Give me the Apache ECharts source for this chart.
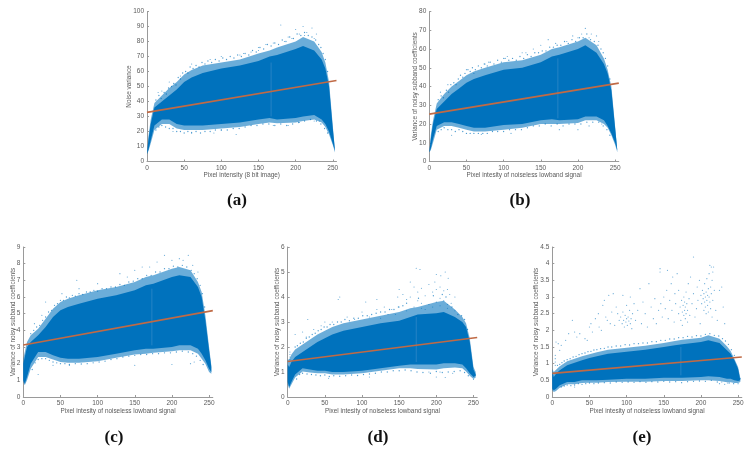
<!DOCTYPE html>
<html>
<head>
<meta charset="utf-8">
<style>html,body{margin:0;padding:0;background:#fff}#c{width:752px;height:453px;filter:blur(0.45px)}</style>
<script src="https://cdn.jsdelivr.net/npm/echarts@6/dist/echarts.min.js"></script>
</head>
<body>
<div id="c"></div>
<script>
const xStops = [0,2,5,10,20,30,40,50,60,75,100,125,150,165,175,200,210,225,235,240,245,250,253];
const xTicks = [0,50,100,150,200,250];

const aHi  = [5,15,25,36,40,44,48,53,56,59,62,64,67,70,71,75,77,74,68,62,50,22,7];
const aLo  = [5,8,14,24,28,28,25,24,24,24,25,26,28,29,28,29,30,31,28,25,20,12,7];
const aHi2 = [5,17,28,39,44,49,53,58,61,64,66,68,72,74,76,80,83,80,73,66,53,24,7];
const aLo2 = [5,7,12,21,25,25,22,21,21,21,22,23,25,26,25.5,26,27,28,26,23,18,11,6];
const bHi  = [5,12,20,28,32,36,39,42,44,46,49,50,53,56,57,60,62,58,52,47,38,18,6];
const bLo  = [5,7,12,19,21,21,20,19,18,18,19.5,20,22,22.5,22,22.5,24,24,22,19,15,10,6];
const bHi2 = [5,14,22,31,36,40,43,46,48,50,53,54,57,60,61,64,66,62,55,49,40,19,6];
const bLo2 = [5,6,10,17,19,19,18,17,16,16,17,18,20,20,20,20.5,22,22,20,18,14,9,5];
const cHi  = [2,2.4,3,3.3,3.7,4.2,4.8,5.2,5.4,5.6,5.9,6.1,6.4,6.7,6.8,7.2,7.3,7.2,6.6,6,4.6,2.8,1.8];
const cLo  = [1,0.8,1.2,2,2.7,2.7,2.5,2.35,2.3,2.3,2.4,2.6,2.8,2.9,2.9,3,3.1,3.1,2.9,2.6,2.2,1.7,1.5];
const cHi2 = [2.3,2.7,3.3,3.7,4.1,4.7,5.3,5.7,5.9,6.1,6.4,6.6,6.9,7.2,7.3,7.7,7.8,7.6,6.9,6.3,4.9,3,1.9];
const cLo2 = [0.9,0.7,1,1.7,2.4,2.4,2.25,2.1,2.05,2.05,2.15,2.35,2.55,2.6,2.65,2.75,2.8,2.8,2.6,2.3,2,1.5,1.4];
const dHi  = [1.3,1.2,1.4,1.6,1.8,2,2.2,2.35,2.5,2.65,2.8,2.95,3.05,3.2,3.3,3.35,3.4,3.2,3,2.8,2.2,1.1,0.9];
const dLo  = [0.6,0.4,0.6,0.9,1.15,1.1,1.05,1.05,1,1,1.05,1.15,1.25,1.3,1.3,1.3,1.35,1.35,1.3,1.15,0.95,0.8,0.85];
const dHi2 = [1.5,1.5,1.7,1.9,2.1,2.3,2.5,2.65,2.8,2.95,3.1,3.25,3.4,3.55,3.6,3.8,3.85,3.5,3.2,2.95,2.35,1.2,1];
const dLo2 = [0.5,0.33,0.5,0.78,1.02,0.98,0.95,0.95,0.9,0.9,0.95,1.05,1.15,1.15,1.12,1.1,1.15,1.18,1.15,1.02,0.85,0.72,0.78];
const eHi  = [0.75,0.6,0.7,0.8,0.95,1.03,1.1,1.17,1.22,1.3,1.36,1.42,1.5,1.55,1.58,1.65,1.7,1.62,1.4,1.3,1.1,0.85,0.5];
const eLo  = [0.25,0.2,0.25,0.35,0.45,0.45,0.5,0.5,0.5,0.52,0.55,0.55,0.58,0.58,0.58,0.6,0.62,0.6,0.55,0.55,0.5,0.48,0.5];
const eHi2 = [0.85,0.75,0.82,0.92,1.07,1.15,1.22,1.28,1.34,1.42,1.48,1.54,1.62,1.68,1.72,1.78,1.85,1.75,1.52,1.38,1.15,0.9,0.58];
const eLo2 = [0.2,0.15,0.18,0.28,0.38,0.38,0.42,0.43,0.43,0.45,0.46,0.46,0.48,0.48,0.48,0.5,0.5,0.48,0.44,0.44,0.42,0.42,0.45];

const aLine = [[0,32.7],[255,54]];
const bLine = [[0,25.3],[255,41.8]];
const cLine = [[0,3.12],[255,5.18]];
const dLine = [[0,1.42],[255,2.38]];
const eLine = [[0,0.71],[255,1.2]];

const aStreak = [[167,30],[167,66]];
const bStreak = [[173,23],[173,55]];
const cStreak = [[173,3.1],[173,6.5]];
const dStreak = [[173,1.4],[173,3.2]];
const eStreak = [[173,0.65],[173,1.5]];

const aDots = [[180,91],[200,88],[210,90],[222,89],[205,85],[215,86],[228,85],[190,83],[212,84],[160,78],[150,74],[140,73],[130,72],[125,71],[100,70],[85,68],[60,65],[45,57],[30,53],[20,47],[15,46],[185,80],[195,82],[170,79],[225,82],[150,76],[120,18],[35,20],[90,19],[100,21],[60,19.5],[170,24],[190,24],[205,26],[225,27],[232,27]];
const bDots = [[210,71],[193,67],[218,68],[225,67],[205,68],[200,66],[215,66],[160,65],[150,62],[170,63],[130,58],[125,58],[100,55],[80,53],[75,52],[60,47],[50,49],[25,41],[15,37],[105,56],[185,64],[228,64],[140,60],[110,15],[70,14.5],[30,14],[175,17],[200,17],[215,19],[232,20]];
const cDots = [[190,8.5],[222,8.5],[210,8.3],[200,8.2],[180,8.1],[160,7.8],[150,7.6],[130,7.4],[72,7],[75,6.5],[100,6.8],[52,6.2],[30,5.7],[25,4.9],[20,1.35],[40,1.9],[62,1.9],[150,1.9],[200,1.95],[225,2],[230,2.1],[15,4.4],[140,7.2],[170,7.8],[215,8.2],[228,7.9],[235,7.5]];
const dDots = [[3,1.8],[3,1.7],[3,1.6],[3,1.5],[173,5.15],[178,5.1],[200,4.9],[212,5],[206,4.85],[198,4.6],[216,4.75],[165,4.6],[170,4.4],[190,4.5],[150,4.3],[155,4.1],[148,4],[175,4.2],[180,4.35],[185,4.05],[195,4.2],[200,4.3],[205,4.4],[210,4.25],[215,4.3],[218,4.1],[225,4],[160,3.9],[165,4],[175,3.85],[180,3.75],[190,3.7],[200,3.8],[205,3.95],[210,3.85],[215,3.7],[220,3.75],[120,3.5],[130,3.6],[120,3.9],[105,3.8],[100,3.4],[70,4],[68,3.9],[90,3.1],[80,3.2],[60,3],[50,3],[45,2.85],[27,3.1],[35,2.7],[20,2.6],[25,2.4],[10,2.5],[140,3.5],[150,3.6],[160,3.45],[170,3.6],[180,3.55],[185,3.5],[195,3.6],[205,3.65],[215,3.55],[225,3.45],[135,3.3],[145,3.3],[110,3.2],[125,3.15],[55,0.75],[110,0.8],[200,0.8],[212,0.78],[250,0.7],[222,0.95],[190,1],[205,1]];
const eDots = [[4,1.25],[4,1.15],[4,1.05],[4,0.95],[5,1.65],[8,1.6],[12,1.55],[10,1.4],[18,1.7],[22,1.9],[27,2.3],[30,1.95],[33,1.8],[37,1.9],[44,1.75],[47,1.7],[50,2.1],[52,2.2],[54,1.95],[58,2.35],[62,2.5],[63,2.1],[66,2],[68,2.75],[70,2.9],[72,2.4],[74,2.3],[76,3.05],[78,2.2],[80,2.55],[82,3.1],[84,2.15],[86,2.7],[88,2.5],[90,2.3],[92,2.4],[94,2.2],[95,2.55],[96,2.3],[97,2.1],[98,2.45],[99,2.25],[100,2.35],[100,2.75],[101,2.15],[102,2.4],[103,2.28],[104,2.6],[105,2.2],[106,2.35],[107,2.05],[108,2.5],[110,2.8],[112,2.3],[95,3.05],[105,3],[115,2.6],[118,3.25],[120,2.2],[122,2.85],[125,2.5],[128,2.1],[130,3.4],[133,2.7],[136,2.35],[138,2.95],[140,2.2],[143,2.6],[145,3.85],[145,3.75],[146,2.8],[148,2.4],[150,3],[152,2.65],[154,3.2],[155,3.8],[156,2.35],[158,2.9],[160,3.4],[161,2.6],[162,3.6],[164,2.25],[165,3.1],[166,2.8],[168,3.7],[170,2.5],[170,3.2],[172,2.7],[173,2.3],[174,2.9],[175,2.55],[175,2.15],[176,2.75],[177,2.45],[177,3],[178,2.6],[178,2.85],[179,2.35],[179,2.7],[180,2.5],[180,3.15],[181,2.8],[182,2.6],[182,2.25],[183,3.4],[184,2.95],[185,2.45],[186,3.6],[188,2.8],[190,4.2],[190,3.1],[192,2.4],[194,2.65],[195,3.3],[196,2.9],[198,3.5],[199,2.2],[200,3.05],[201,2.8],[202,3.2],[203,2.95],[204,2.6],[204,3.1],[205,2.85],[205,3.4],[206,3],[206,2.7],[207,3.15],[207,2.5],[208,2.9],[208,3.55],[209,3.05],[209,2.75],[210,3.25],[210,2.55],[211,3],[211,3.7],[212,2.85],[212,3.95],[213,3.3],[213,2.65],[214,3.1],[214,3.9],[215,3.5],[215,2.4],[216,3.75],[216,2.9],[217,3.9],[218,3.2],[220,2.6],[222,2.3],[225,3.2],[228,3.3],[230,2.7],[232,2.2],[225,0.4],[228,0.45],[232,0.38],[236,0.42],[250,0.4],[253,0.55],[30,0.3]];

const aFringe = [[12,41],[16,44],[19,42],[23,46],[26,45],[29,49],[33,50],[36,52],[39,51],[42,56],[45,55],[48,59],[52,60],[55,59],[58,63],[62,62],[66,64],[70,63],[74,66],[78,65],[82,67],[87,66],[92,68],[97,67],[102,69],[107,68],[112,70],[117,69],[122,71],[127,70],[132,72],[137,71],[142,74],[147,73],[152,76],[157,75],[162,78],[167,77],[172,79],[177,78],[182,81],[187,80],[192,83],[197,82],[202,85],[207,84],[212,86],[217,84],[222,83],[227,81],[231,78],[234,76],[237,72],[240,68],[243,60],[12,21],[16,23],[20,24],[25,23],[30,22],[35,22],[40,20],[45,20],[50,19],[55,20],[60,19],[66,20],[72,19],[78,20],[85,20],[92,21],[100,21],[108,21],[116,22],[124,22],[132,23],[140,24],[148,24],[156,25],[164,25],[172,24],[180,25],[188,24],[196,25],[204,26],[212,27],[220,28],[228,27],[234,25],[239,22],[243,19]];
const bFringe = [[12,33],[16,35],[19,34],[23,38],[26,37],[29,41],[33,42],[36,41],[39,44],[42,46],[45,45],[48,47],[52,49],[55,48],[58,50],[62,49],[66,51],[70,50],[74,52],[78,51],[82,53],[87,52],[92,54],[97,53],[102,55],[107,54],[112,55],[117,54],[122,56],[127,55],[132,57],[137,56],[142,58],[147,58],[152,59],[157,59],[162,61],[167,61],[172,62],[177,62],[182,64],[187,63],[192,65],[197,64],[202,66],[207,66],[212,68],[217,65],[222,64],[227,62],[231,60],[234,58],[237,55],[240,51],[243,44],[12,16],[16,17],[20,18],[25,17],[30,17],[35,16],[40,17],[45,16],[50,15],[55,15],[60,15],[66,15],[72,15],[78,15],[85,16],[92,16],[100,16],[108,17],[116,17],[124,17],[132,18],[140,19],[148,19],[156,20],[164,19],[172,20],[180,19],[188,20],[196,20],[204,20],[212,21],[220,21],[228,21],[234,19],[239,17],[243,14]];
const cFringe = [[10,3.8],[14,4],[18,4.2],[22,4.3],[26,4.6],[30,4.8],[34,5.1],[38,5.2],[42,5.5],[46,5.6],[50,5.8],[54,5.8],[58,6],[62,5.95],[66,6.1],[70,6.05],[75,6.2],[80,6.15],[85,6.3],[90,6.3],[95,6.4],[100,6.35],[106,6.5],[112,6.5],[118,6.6],[124,6.6],[130,6.75],[136,6.7],[142,6.9],[148,6.95],[154,7.1],[160,7.1],[166,7.3],[172,7.3],[178,7.5],[184,7.5],[190,7.7],[196,7.7],[202,7.85],[208,7.8],[214,7.9],[220,7.8],[226,7.6],[230,7.4],[234,7.1],[238,6.7],[241,6.2],[244,5.4],[12,1.65],[16,2.05],[20,2.25],[25,2.3],[30,2.3],[35,2.2],[40,2.1],[45,2.05],[50,2],[56,2],[62,1.95],[70,2],[78,1.98],[86,2],[94,2.05],[102,2.1],[110,2.15],[118,2.25],[126,2.3],[134,2.4],[142,2.45],[150,2.5],[158,2.55],[166,2.55],[174,2.6],[182,2.6],[190,2.65],[198,2.65],[206,2.7],[214,2.75],[222,2.7],[228,2.6],[233,2.45],[238,2.2],[242,1.95]];
const dFringe = [[10,2],[13,2.05],[17,2.15],[21,2.2],[25,2.35],[29,2.4],[33,2.5],[37,2.55],[41,2.65],[45,2.7],[49,2.8],[53,2.8],[57,2.9],[62,2.9],[67,3],[72,3],[77,3.1],[83,3.05],[89,3.15],[95,3.15],[101,3.25],[107,3.25],[113,3.3],[119,3.35],[125,3.4],[131,3.4],[137,3.5],[143,3.5],[149,3.6],[155,3.65],[160,3.75],[176,3.95],[196,4.05],[208,4.1],[213,4],[221,3.6],[229,3.3],[234,3.25],[238,3.1],[242,2.7],[12,0.72],[16,0.9],[20,0.95],[26,0.92],[32,0.9],[38,0.88],[44,0.85],[50,0.88],[56,0.82],[62,0.85],[70,0.83],[78,0.85],[86,0.88],[94,0.86],[102,0.9],[110,0.92],[118,0.95],[126,1],[134,1],[142,1.05],[150,1.05],[158,1.08],[166,1.05],[174,1],[182,0.98],[192,0.95],[200,1.02],[208,0.98],[216,1],[224,1.02],[232,1.05],[238,0.98],[243,0.85]];
const eFringe = [[7,0.95],[10,0.98],[13,1.03],[16,1.08],[20,1.12],[24,1.15],[28,1.2],[32,1.22],[36,1.27],[40,1.3],[44,1.32],[48,1.36],[52,1.37],[56,1.41],[60,1.42],[65,1.45],[70,1.46],[75,1.5],[80,1.5],[86,1.53],[92,1.53],[98,1.57],[104,1.56],[110,1.6],[116,1.6],[122,1.62],[128,1.62],[134,1.66],[140,1.66],[146,1.7],[152,1.7],[158,1.74],[164,1.74],[170,1.78],[176,1.78],[182,1.82],[188,1.8],[194,1.84],[200,1.83],[206,1.88],[212,1.9],[218,1.85],[224,1.83],[229,1.75],[233,1.68],[237,1.58],[241,1.42],[245,1.25],[12,0.3],[16,0.33],[20,0.36],[25,0.34],[30,0.36],[35,0.4],[40,0.38],[45,0.4],[50,0.42],[56,0.4],[62,0.42],[70,0.43],[78,0.42],[86,0.45],[94,0.44],[102,0.45],[110,0.44],[118,0.46],[126,0.44],[134,0.46],[142,0.45],[150,0.47],[158,0.45],[166,0.46],[174,0.43],[182,0.46],[190,0.47],[198,0.48],[206,0.47],[214,0.5],[222,0.45],[238,0.42],[244,0.4]];

const aYLabel = 'Noise variance';
const aXLabel = 'Pixel intensity (8 bit image)';
const yLabel = 'Variance of noisy subband coefficients';
const xLabel = 'Pixel intesity of noiseless lowband signal';

const BLUE = '#0072BD', GREY = '#9a9a9a', TXT = '#5a5a5a';
const panels = [
 {tag:'a',l:147,t:11.5,h:150,ymax:100,step:10,hi:aHi,lo:aLo,hi2:aHi2,lo2:aLo2,line:aLine,streak:aStreak,dots:aDots,fringe:aFringe,xn:aXLabel,yn:aYLabel,gap:14.5,cx:232,cy:196},
 {tag:'b',l:429.3,t:11.5,h:150,ymax:80,step:10,hi:bHi,lo:bLo,hi2:bHi2,lo2:bLo2,line:bLine,streak:bStreak,dots:bDots,fringe:bFringe,xn:xLabel,yn:yLabel,gap:11,cx:515,cy:196},
 {tag:'c',l:23.3,t:247,h:150,ymax:9,step:1,hi:cHi,lo:cLo,hi2:cHi2,lo2:cLo2,line:cLine,streak:cStreak,dots:cDots,fringe:cFringe,xn:xLabel,yn:yLabel,gap:7,cx:109,cy:433},
 {tag:'d',l:287.7,t:247,h:150,ymax:6,step:1,hi:dHi,lo:dLo,hi2:dHi2,lo2:dLo2,line:dLine,streak:dStreak,dots:dDots,fringe:dFringe,xn:xLabel,yn:yLabel,gap:7.5,cx:373,cy:433},
 {tag:'e',l:552.3,t:247,h:150,ymax:4.5,step:0.5,hi:eHi,lo:eLo,hi2:eHi2,lo2:eLo2,line:eLine,streak:eStreak,dots:eDots,fringe:eFringe,xn:xLabel,yn:yLabel,gap:13,cx:637,cy:433}
];

function bandSeries(i, hi, lo, color){
  const rows = xStops.map((x,k)=>[x,lo[k],hi[k]]);
  return {type:'custom',xAxisIndex:i,yAxisIndex:i,silent:true,clip:false,data:rows,encode:{x:0,y:[1,2]},z:2,
    renderItem(params,api){
      if(params.dataIndex!==0) return null;
      const up = rows.map(r=>api.coord([r[0],r[2]]));
      const dn = rows.map(r=>api.coord([r[0],r[1]])).reverse();
      return {type:'polygon',shape:{points:up.concat(dn)},style:{fill:color}};
    }};
}

const option = {animation:false,backgroundColor:'#fff',grid:[],xAxis:[],yAxis:[],series:[],title:[]};
panels.forEach((p,i)=>{
  option.grid.push({left:p.l,top:p.t,width:189.5,height:p.h,containLabel:false});
  option.xAxis.push({type:'value',gridIndex:i,min:0,max:255,name:p.xn,nameLocation:'middle',nameGap:11,nameMoveOverlap:false,
    nameTextStyle:{fontSize:6.4,color:TXT,fontFamily:'Liberation Sans'},
    splitLine:{show:false},axisLine:{show:true,onZero:false,lineStyle:{color:GREY,width:1}},
    axisTick:{show:true,inside:true,length:2,customValues:xTicks,lineStyle:{color:GREY}},
    axisLabel:{fontSize:6.5,color:TXT,margin:3,customValues:xTicks,fontFamily:'Liberation Sans'}});
  option.yAxis.push({type:'value',gridIndex:i,min:0,max:p.ymax,interval:p.step,name:p.yn,nameLocation:'middle',nameGap:p.gap,nameMoveOverlap:false,
    nameTextStyle:{fontSize:6.4,color:TXT,fontFamily:'Liberation Sans'},
    splitLine:{show:false},axisLine:{show:true,onZero:false,lineStyle:{color:GREY,width:1}},
    axisTick:{show:true,inside:true,length:2,lineStyle:{color:GREY}},
    axisLabel:{fontSize:6.5,color:TXT,margin:3,fontFamily:'Liberation Sans'}});
  option.series.push(bandSeries(i,p.hi2,p.lo2,'rgba(0,114,189,0.58)'));
  option.series.push(bandSeries(i,p.hi,p.lo,BLUE));
  option.series.push({type:'scatter',xAxisIndex:i,yAxisIndex:i,silent:true,data:p.fringe,symbolSize:1.3,z:3,itemStyle:{color:BLUE,opacity:0.7}});
  option.series.push({type:'scatter',xAxisIndex:i,yAxisIndex:i,silent:true,data:p.dots,symbolSize:1.2,z:3,itemStyle:{color:BLUE,opacity:0.6}});
  option.series.push({type:'line',xAxisIndex:i,yAxisIndex:i,silent:true,data:p.streak,showSymbol:false,z:4,lineStyle:{color:'#2f88c8',width:0.8}});
  option.series.push({type:'line',xAxisIndex:i,yAxisIndex:i,silent:true,data:p.line,showSymbol:false,z:5,lineStyle:{color:'#C06A45',width:1.7}});
  option.title.push({text:'{n|(}{b|'+p.tag+'}{n|)}',left:p.cx,top:p.cy,textAlign:'center',textVerticalAlign:'middle',
    textStyle:{rich:{n:{fontFamily:'Liberation Serif',fontSize:17,color:'#111'},b:{fontFamily:'Liberation Serif',fontSize:17,fontWeight:'bold',color:'#111'}}}});
});
echarts.init(document.getElementById('c'),null,{renderer:'canvas'}).setOption(option);
</script>
</body>
</html>
